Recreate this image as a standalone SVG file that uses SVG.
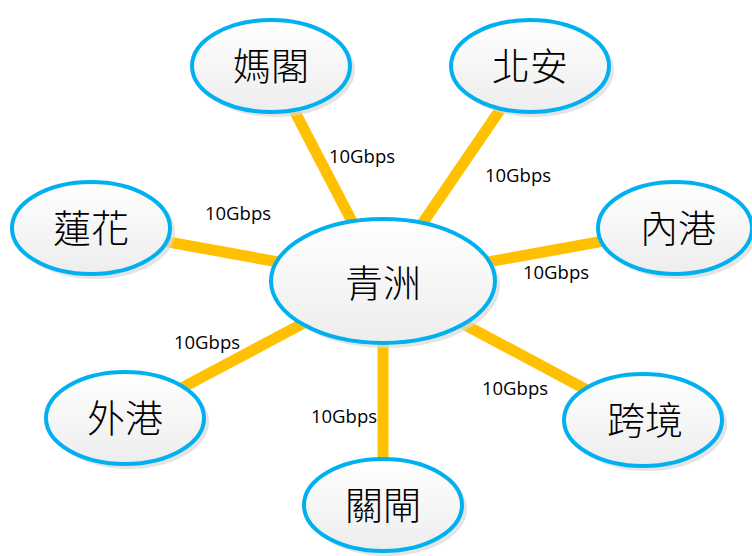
<svg xmlns="http://www.w3.org/2000/svg" width="752" height="556" viewBox="0 0 752 556">
<defs>
<linearGradient id="g" x1="0" y1="0" x2="0" y2="1">
<stop offset="0" stop-color="#ffffff"/>
<stop offset="1" stop-color="#ededed"/>
</linearGradient>
</defs>
<style>
.link{stroke:#FFC000;stroke-width:11;fill:none}
.node{fill:url(#g);stroke:#00B0F0;stroke-width:4}
.shadow{fill:#d9d9d9;opacity:0.7}
.name{font-family:"Noto Sans CJK TC","Noto Sans CJK SC",sans-serif;font-weight:300;font-size:38px;fill:#000;text-anchor:middle}
.lbl{font-family:"Open Sans","Noto Sans",sans-serif;font-size:18.5px;fill:#000;text-anchor:middle}
</style>
<rect width="752" height="556" fill="#fff"/>
<g id="connectors">
<line class="link" x1="271" y1="66" x2="383" y2="281"/>
<line class="link" x1="530" y1="66" x2="383" y2="281"/>
<line class="link" x1="91" y1="228" x2="383" y2="281"/>
<line class="link" x1="676" y1="228" x2="383" y2="281"/>
<line class="link" x1="125" y1="418" x2="383" y2="281"/>
<line class="link" x1="383" y1="505" x2="383" y2="281"/>
<line class="link" x1="643" y1="420" x2="383" y2="281"/>
<text class="lbl" x="362" y="163">10Gbps</text>
<text class="lbl" x="518" y="182">10Gbps</text>
<text class="lbl" x="238" y="220">10Gbps</text>
<text class="lbl" x="556" y="279">10Gbps</text>
<text class="lbl" x="207" y="349">10Gbps</text>
<text class="lbl" x="344" y="423">10Gbps</text>
<text class="lbl" x="515" y="395">10Gbps</text>
</g>
<g id="n-qingzhou">
<ellipse class="shadow" cx="387" cy="285" rx="113" ry="63"/>
<ellipse class="node" cx="383" cy="281" rx="112" ry="62"/>
<text class="name" x="383" y="297" font-size="42">青洲</text>
</g>
<g id="n-mage">
<ellipse class="shadow" cx="275" cy="70" rx="80" ry="47"/>
<ellipse class="node" cx="271" cy="66" rx="79" ry="46"/>
<text class="name" x="271" y="80">媽閣</text>
</g>
<g id="n-beian">
<ellipse class="shadow" cx="534" cy="70" rx="80" ry="47"/>
<ellipse class="node" cx="530" cy="66" rx="79" ry="46"/>
<text class="name" x="530" y="80">北安</text>
</g>
<g id="n-lianhua">
<ellipse class="shadow" cx="95" cy="232" rx="80" ry="47"/>
<ellipse class="node" cx="91" cy="228" rx="79" ry="46"/>
<text class="name" x="91" y="242">蓮花</text>
</g>
<g id="n-neigang">
<ellipse class="shadow" cx="679" cy="232" rx="78" ry="47"/>
<ellipse class="node" cx="675" cy="228" rx="77" ry="46"/>
<text class="name" x="678" y="242">內港</text>
</g>
<g id="n-waigang">
<ellipse class="shadow" cx="129" cy="422" rx="80" ry="47"/>
<ellipse class="node" cx="125" cy="418" rx="79" ry="46"/>
<text class="name" x="125" y="432">外港</text>
</g>
<g id="n-guanzha">
<ellipse class="shadow" cx="387" cy="509" rx="80" ry="47"/>
<ellipse class="node" cx="383" cy="505" rx="79" ry="46"/>
<text class="name" x="383" y="519">關閘</text>
</g>
<g id="n-kuajing">
<ellipse class="shadow" cx="647" cy="424" rx="80" ry="47"/>
<ellipse class="node" cx="643" cy="420" rx="79" ry="46"/>
<text class="name" x="645" y="434">跨境</text>
</g>
</svg>
